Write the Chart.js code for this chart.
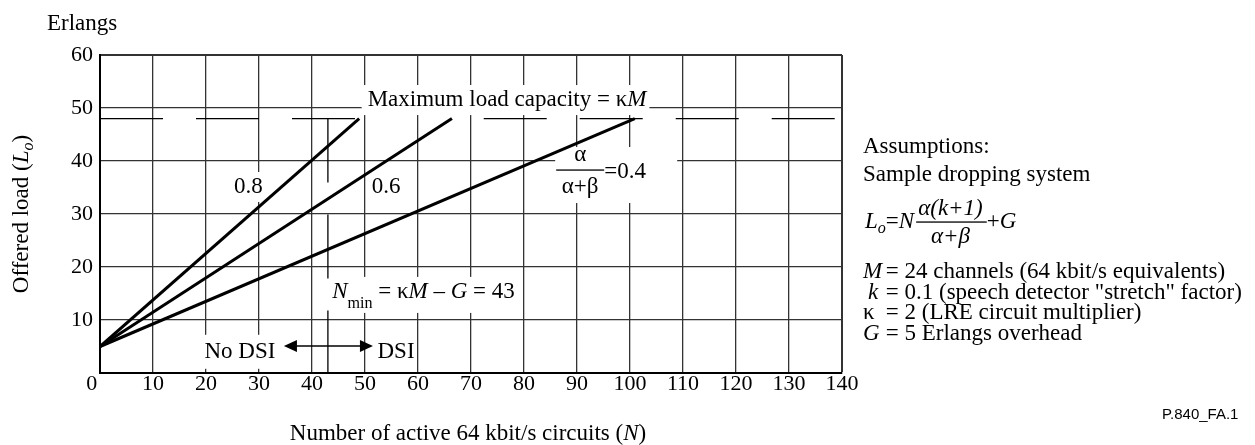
<!DOCTYPE html>
<html>
<head>
<meta charset="utf-8">
<script src="https://cdn.jsdelivr.net/npm/chart.js@4.4.1/dist/chart.umd.min.js"></script>
<style>
  html, body { margin: 0; padding: 0; background: #fff; }
</style>
</head>
<body>
<canvas id="chart" width="1255" height="445"></canvas>
<script>
// values
const ratioLabels = ["0.8", "0.6", "0.4"];     // alpha / (alpha + beta)
const lineStartN = 0;
const lineStartLoad = 5;                        // G overhead
const lineEndN = [48.9, 66.4, 100.9];           // where each line meets kM
const maxLoad = 48;                             // kM
const maxLoadSpans = [[0, 48.9], [72.4, 140]];  // visible parts of the dashed kM line
const nMin = 43;
const xTicks = [0, 10, 20, 30, 40, 50, 60, 70, 80, 90, 100, 110, 120, 130, 140];
const yTicks = [0, 10, 20, 30, 40, 50, 60];

const SERIF = '"Liberation Serif", "Times New Roman", serif';
const font = (size, italic) => (italic ? "italic " : "") + size + "px " + SERIF;

// rich text: parts = [{t, i (italic), sub (em offset down)}]
function partsWidth(ctx, parts, size) {
  let w = 0;
  for (const p of parts) {
    ctx.font = font(p.sub !== undefined ? size * 0.7 : size, p.i);
    w += ctx.measureText(p.t).width;
  }
  return w;
}
function drawParts(ctx, parts, x, y, size, align) {
  const w = partsWidth(ctx, parts, size);
  let cx = align === "center" ? x - w / 2 : x;
  ctx.textAlign = "left";
  ctx.textBaseline = "middle";
  ctx.fillStyle = "#000";
  for (const p of parts) {
    const isSub = p.sub !== undefined;
    ctx.font = font(isSub ? size * 0.7 : size, p.i);
    ctx.fillText(p.t, cx, y + (isSub ? p.sub * size : 0));
    cx += ctx.measureText(p.t).width;
  }
  return w;
}

// labels placed on the plot (data coords), box = [left, right, up, down] white padding
const notes = [
  { n: 76.8, l: 51.5, align: "center", parts: [{ t: "Maximum load capacity = \u03BA" }, { t: "M", i: true }], box: [6, 3, 15, 15] },
  { n: 28.0, l: 35.1, align: "center", parts: [{ t: ratioLabels[0] }], box: [2, 2, 15, 15] },
  { n: 54.0, l: 35.1, align: "center", parts: [{ t: ratioLabels[1] }], box: [2, 2, 15, 15] },
  { n: 43.8, l: 15.3, align: "left", parts: [{ t: "N", i: true }, { t: "min", sub: 0.5 }, { t: " = \u03BA" }, { t: "M", i: true }, { t: " \u2013 " }, { t: "G", i: true }, { t: " = " + nMin }], box: [6, 4, 15, 21] },
  { n: 26.4, l: 4.0, align: "center", parts: [{ t: "No DSI" }], box: [4, 4, 17, 17] },
  { n: 55.85, l: 4.0, align: "center", parts: [{ t: "DSI" }], box: [2, 2, 17, 17] }
];

const labelPlugin = {
  id: "labels",
  beforeDatasetsDraw(chart) {
    const ctx = chart.ctx, xs = chart.scales.x, ys = chart.scales.y;
    ctx.save();
    ctx.fillStyle = "#fff";
    for (const nt of notes) {
      const x = xs.getPixelForValue(nt.n), y = ys.getPixelForValue(nt.l);
      const w = partsWidth(ctx, nt.parts, 23);
      const left = nt.align === "center" ? x - w / 2 : x;
      ctx.fillRect(left - nt.box[0], y - nt.box[2], w + nt.box[0] + nt.box[1], nt.box[2] + nt.box[3]);
    }
    // box behind the 0.4 fraction
    const fx = xs.getPixelForValue(90.6), fy = ys.getPixelForValue(38.3);
    ctx.fillRect(fx - 25, fy - 23, 122, 56);
    ctx.restore();
  },
  afterDatasetsDraw(chart) {
    const ctx = chart.ctx, xs = chart.scales.x, ys = chart.scales.y;
    ctx.save();
    for (const nt of notes) {
      drawParts(ctx, nt.parts, xs.getPixelForValue(nt.n), ys.getPixelForValue(nt.l), 23, nt.align);
    }

    // alpha/(alpha+beta)=0.4
    const fx = xs.getPixelForValue(90.6), fy = ys.getPixelForValue(38.3);
    ctx.font = font(23);
    ctx.textAlign = "center";
    ctx.textBaseline = "middle";
    ctx.fillText("\u03B1", fx, fy - 15);
    ctx.fillText("\u03B1+\u03B2", fx, fy + 17);
    ctx.fillRect(fx - 24, fy - 0.6, 48, 1.3);
    ctx.textAlign = "left";
    ctx.fillText("=" + ratioLabels[2], fx + 24, fy + 2);

    // No DSI <-> DSI arrow
    const ax1 = xs.getPixelForValue(34.7), ax2 = xs.getPixelForValue(51.5), ay = ys.getPixelForValue(5.1);
    ctx.strokeStyle = "#000";
    ctx.lineWidth = 1.5;
    ctx.beginPath();
    ctx.moveTo(ax1 + 10, ay);
    ctx.lineTo(ax2 - 10, ay);
    ctx.stroke();
    for (const [tip, dir] of [[ax1, -1], [ax2, 1]]) {
      ctx.beginPath();
      ctx.moveTo(tip, ay);
      ctx.lineTo(tip - dir * 13, ay - 6);
      ctx.lineTo(tip - dir * 13, ay + 6);
      ctx.closePath();
      ctx.fill();
    }
    ctx.restore();
  },
  afterDraw(chart) {
    const ctx = chart.ctx;
    ctx.save();
    // axis titles
    drawParts(ctx, [{ t: "Erlangs" }], 47, 24, 23, "left");
    drawParts(ctx, [{ t: "Number of active 64 kbit/s circuits (" }, { t: "N", i: true }, { t: ")" }], 468, 434, 23, "center");
    ctx.translate(22, 214);
    ctx.rotate(-Math.PI / 2);
    drawParts(ctx, [{ t: "Offered load (" }, { t: "L", i: true }, { t: "o", i: true, sub: 0.3 }, { t: ")" }], 0, 0, 23, "center");
    ctx.restore();

    ctx.save();
    // assumptions block
    const tx = 863;
    drawParts(ctx, [{ t: "Assumptions:" }], tx, 147, 23, "left");
    drawParts(ctx, [{ t: "Sample dropping system" }], tx, 175, 23, "left");

    let cx = tx + 2;
    const fy = 222;
    cx += drawParts(ctx, [{ t: "L", i: true }, { t: "o", i: true, sub: 0.3 }, { t: "=" }, { t: "N", i: true }], cx, fy, 23, "left");
    const num = [{ t: "\u03B1(k+1)", i: true }], den = [{ t: "\u03B1+\u03B2", i: true }];
    const bw = Math.max(partsWidth(ctx, num, 23), partsWidth(ctx, den, 23)) + 8;
    drawParts(ctx, num, cx + bw / 2, fy - 13, 23, "center");
    drawParts(ctx, den, cx + bw / 2, fy + 15, 23, "center");
    ctx.fillRect(cx + 2, fy - 0.6, bw - 2, 1.3);
    cx += bw;
    drawParts(ctx, [{ t: "+" }, { t: "G", i: true }], cx, fy, 23, "left");

    const rows = [
      [{ t: "M", i: true }, " = 24 channels (64 kbit/s equivalents)", tx, 272],
      [{ t: "k", i: true }, " = 0.1 (speech detector \"stretch\" factor)", tx + 5, 293],
      [{ t: "\u03BA" }, " = 2 (LRE circuit multiplier)", tx, 313],
      [{ t: "G", i: true }, " = 5 Erlangs overhead", tx, 334]
    ];
    for (const [sym, rest, sx, sy] of rows) {
      drawParts(ctx, [sym], sx, sy, 23, "left");
      drawParts(ctx, [{ t: rest }], 880, sy, 23, "left");
    }

    ctx.font = '15px "Liberation Sans", Arial, sans-serif';
    ctx.textAlign = "left";
    ctx.textBaseline = "middle";
    ctx.fillText("P.840_FA.1", 1162, 415);
    ctx.restore();
  }
};

const datasets = ratioLabels.map((r, i) => ({
  label: r,
  data: [{ x: lineStartN, y: lineStartLoad }, { x: lineEndN[i], y: maxLoad }],
  borderColor: "#000",
  borderWidth: 3,
  pointRadius: 0
}));
maxLoadSpans.forEach((s, i) => datasets.push({
  label: "kM " + i,
  data: [{ x: s[0], y: maxLoad }, { x: s[1], y: maxLoad }],
  borderColor: "#000",
  borderWidth: 1.3,
  borderDash: [63, 33],
  pointRadius: 0
}));
datasets.push({
  label: "Nmin",
  data: [{ x: nMin, y: maxLoad }, { x: nMin, y: 0 }],
  borderColor: "#000",
  borderWidth: 1.3,
  borderDash: [64, 32],
  pointRadius: 0
});

new Chart(document.getElementById("chart"), {
  type: "line",
  data: { datasets },
  plugins: [labelPlugin],
  options: {
    responsive: false,
    animation: false,
    devicePixelRatio: 1,
    layout: { padding: { top: 55, right: 413, bottom: 0, left: 0 } },
    plugins: { legend: { display: false }, tooltip: { enabled: false } },
    scales: {
      x: {
        type: "linear",
        min: 0,
        max: 140,
        afterBuildTicks: s => { s.ticks = xTicks.map(v => ({ value: v })); },
        afterFit: s => { s.height = 72; },
        ticks: {
          padding: -2,
          color: "#000",
          font: { family: SERIF, size: 22 },
          callback: v => (v === 0 ? "0\u2002\u2005" : v)
        },
        grid: {
          drawTicks: false,
          color: "#333",
          lineWidth: c => (c.tick && c.tick.value === 140 ? 2 : 1.3)
        },
        border: { color: "#000", width: 2 }
      },
      y: {
        min: 0,
        max: 60,
        afterBuildTicks: s => { s.ticks = yTicks.map(v => ({ value: v })); },
        afterFit: s => { s.width = 100; },
        ticks: {
          padding: 7,
          color: "#000",
          font: { family: SERIF, size: 22 },
          callback: v => (v === 0 ? "" : v)
        },
        grid: {
          drawTicks: false,
          color: "#333",
          lineWidth: c => (c.tick && c.tick.value === 60 ? 2 : 1.3)
        },
        border: { color: "#000", width: 2 }
      }
    }
  }
});
</script>
</body>
</html>
